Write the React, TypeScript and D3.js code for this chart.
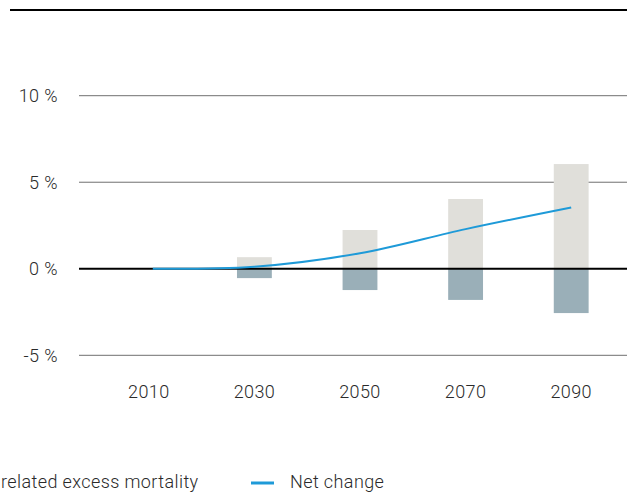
import React from "react";
import * as d3 from "d3";

const years = ["2010", "2030", "2050", "2070", "2090"];
const heatValues = [0, 0.67, 2.24, 4.03, 6.05];
const coldValues = [0, -0.54, -1.23, -1.8, -2.56];
const netValues = [0, 0.12, 0.9, 2.29, 3.54];
const yTicks = [-5, 0, 5, 10];
const legendLabels = ["related excess mortality", "Net change"];

const W = 627;
const H = 492;
const FONT = "Roboto, 'Noto Sans', sans-serif";

export default function App() {
  const x = d3.scaleBand<string>().domain(years).range([96, 624]).paddingInner(0.67).paddingOuter(0.335);
  const y = d3.scaleLinear().domain([-5, 10]).range([355.3, 95.7]);
  const bw = x.bandwidth();
  const cx = (d: string) => (x(d) as number) + bw / 2;
  const line = d3
    .line<number>()
    .x((_, i) => cx(years[i]) + (i === 0 ? 4 : 0))
    .y((v) => y(v))
    .curve(d3.curveCatmullRom.alpha(0.5));

  const txt = { fontWeight: 300, fill: "#2a2a2a", letterSpacing: 0.4 } as const;

  return (
    <svg
      width={W}
      height={H}
      style={{ position: "absolute", left: 0, top: 0, background: "#fff" }}
      fontFamily={FONT}
    >
      <line x1={10} x2={W} y1={10} y2={10} stroke="#000" strokeWidth={2} />
      {yTicks.map((t) => (
        <g key={t}>
          {t !== 0 && <line x1={79} x2={W} y1={y(t)} y2={y(t)} stroke="#707070" strokeWidth={1} />}
          <text x={58} y={y(t)} dy="0.35em" textAnchor="end" fontSize={18} {...txt}>
            {t} %
          </text>
        </g>
      ))}
      {years.map((yr, i) => (
        <g key={yr}>
          <rect x={x(yr)} width={bw} y={y(heatValues[i])} height={y(0) - y(heatValues[i])} fill="#e0dfda" />
          <rect x={x(yr)} width={bw} y={y(0)} height={y(coldValues[i]) - y(0)} fill="#9aafb8" />
          <text x={cx(yr)} y={397.5} textAnchor="middle" fontSize={18} {...txt}>
            {yr}
          </text>
        </g>
      ))}
      <line x1={79} x2={W} y1={y(0)} y2={y(0)} stroke="#000" strokeWidth={2} />
      <path d={line(netValues) || ""} fill="none" stroke="#1e9ad8" strokeWidth={2} />
      <text x={1} y={488} fontSize={18} {...txt}>
        {legendLabels[0]}
      </text>
      <line x1={251} x2={274} y1={483} y2={483} stroke="#1e9ad8" strokeWidth={3} />
      <text x={290} y={488} fontSize={18} {...txt}>
        {legendLabels[1]}
      </text>
    </svg>
  );
}
